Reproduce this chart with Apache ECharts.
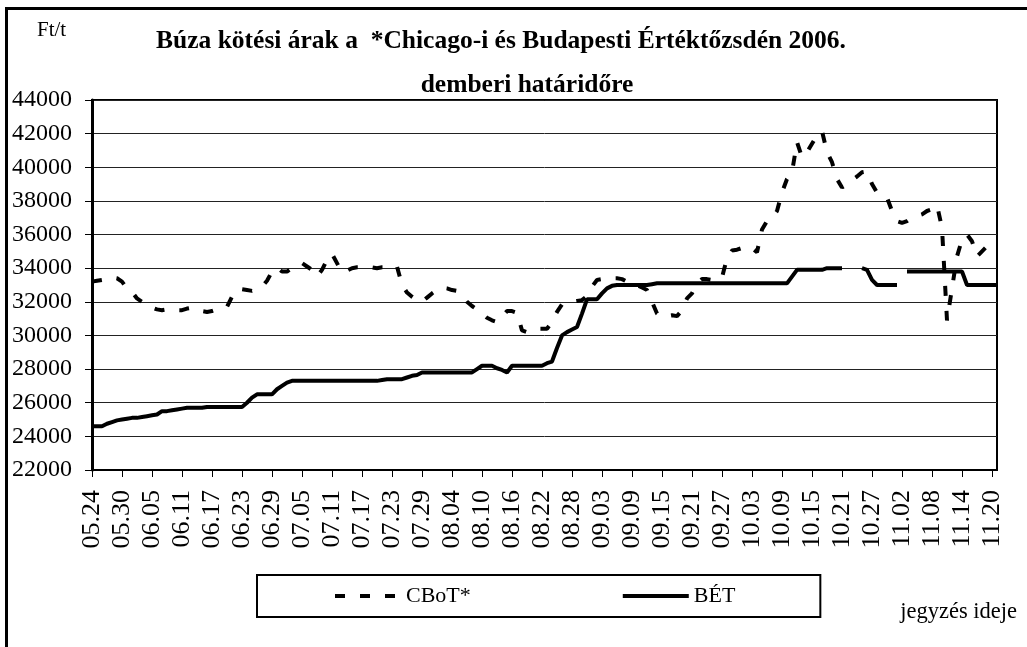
<!DOCTYPE html>
<html>
<head>
<meta charset="utf-8">
<script src="https://cdn.jsdelivr.net/npm/echarts@6/dist/echarts.min.js"></script>
<style>
    html, body { margin: 0; padding: 0; background: #fff; }
    #chart { width: 1027px; height: 647px; }
</style>
</head>
<body>
<div id="chart"></div>
<script>
// napi adatok 2006.05.24 - 2006.11.21
let startDay = [2006, 5, 24],
    dayCount = 182;

let seriesNames = ['CBoT*', 'BÉT'];

// Chicago (szaggatott)
let cbotValues = [
    33200, 33250, 33300, 33400, 33450, 33400, 33200, 32800, 32600, 32200,
    32000, 31900, 31650, 31550, 31500, 31550, 31550, 31500, 31500, 31600,
    31650, 31600, 31450, 31400, 31450, 31550, 31600, 31700, 32300, 32750,
    32750, 32700, 32650, 32750, 32900, 33250, 33800, 34050, 33800, 33800,
    34000, 34200, 34300, 34100, 33900, 33500, 33900, 34500, 34850, 34300,
    33750, 33850, 34000, 34050, 34050, 34000, 34050, 34000, 34050, 34050,
    34100, 34100, 33000, 32550, 32300, 32100, 32000, 32250, 32500, 32700,
    32850, 32800, 32700, 32650, 32400, 32000, 31750, 31550, 31300, 31050,
    30900, 30800, 31100, 31450, 31450, 31350, 30300, 30200, 30350, 30400,
    30400, 30400, 30800, 31400, 31850, 31950, 32000, 32050, 32100, 32350,
    32900, 33300, 33350, 33400, 33400, 33400, 33350, 33200, 33200, 33000,
    32850, 32700, 32000, 31300, 31100, 31150, 31200, 31150, 31500, 32200,
    32500, 33100, 33350, 33350, 33300, 33300, 33450, 34600, 35050, 35100,
    35200, 35300, 35200, 34950, 36300, 36800, 36950, 37400, 38500, 39300,
    39700, 41500, 40600, 40900, 41400, 41900, 42150, 40900, 40300, 39300,
    38800, 39000, 39250, 39450, 39700, 39750, 39000, 38500, 38350, 38200,
    37400, 36800, 36700, 36800, 37000, 37100, 37200, 37400, 37500, 37750,
    36400, 30900, 32800, 34700, 35700, 36000, 35600, 34700, 35000, 35300,
    35500, null
];

// Budapest (folytonos)
let betValues = [
    24600, 24600, 24600, 24750, 24850, 24950, 25000, 25050, 25100, 25100,
    25150, 25200, 25250, 25300, 25500, 25500, 25550, 25600, 25650, 25700,
    25700, 25700, 25700, 25750, 25750, 25750, 25750, 25750, 25750, 25750,
    25750, 26000, 26300, 26500, 26500, 26500, 26500, 26800, 27000, 27200,
    27300, 27300, 27300, 27300, 27300, 27300, 27300, 27300, 27300, 27300,
    27300, 27300, 27300, 27300, 27300, 27300, 27300, 27300, 27350, 27400,
    27400, 27400, 27400, 27500, 27600, 27650, 27800, 27800, 27800, 27800,
    27800, 27800, 27800, 27800, 27800, 27800, 27800, 28000, 28200, 28200,
    28200, 28050, 27950, 27800, 28200, 28200, 28200, 28200, 28200, 28200,
    28200, 28350, 28450, 29250, 30000, 30200, 30350, 30500, 31300, 32150,
    32150, 32150, 32500, 32800, 32950, 33000, 33000, 33000, 33000, 33000,
    33000, 33000, 33050, 33100, 33100, 33100, 33100, 33100, 33100, 33100,
    33100, 33100, 33100, 33100, 33100, 33100, 33100, 33100, 33100, 33100,
    33100, 33100, 33100, 33100, 33100, 33100, 33100, 33100, 33100, 33100,
    33500, 33900, 33900, 33900, 33900, 33900, 33900, 34000, 34000, 34000,
    34000, null, null, null, 34000, 33900, 33300, 33000, 33000, 33000,
    33000, 33000, null, 33800, 33800, 33800, 33800, 33800, 33800, 33800,
    33800, 33800, 33800, 33800, 33800, 33000, 33000, 33000, 33000, 33000,
    33000, 33000
];

let yMin = 22000,
    yMax = 44000,
    yStep = 2000;

let fontSerif = "'Liberation Serif', 'Times New Roman', serif";

// kategóriák: hónap.nap
let buildDays = function () {
    let days = [];
    let d = new Date(startDay[0], startDay[1] - 1, startDay[2]);
    for (let i = 0; i < dayCount; i++) {
        let mm = ('0' + (d.getMonth() + 1)).slice(-2);
        let dd = ('0' + d.getDate()).slice(-2);
        days.push(mm + '.' + dd);
        d.setDate(d.getDate() + 1);
    }
    return days;
};

let dayLabels = buildDays();

let chart = echarts.init(document.getElementById('chart'));

chart.setOption({
    animation: false,
    backgroundColor: '#fff',
    textStyle: { fontFamily: fontSerif, color: '#000' },
    grid: {
        left: 92, right: 30, top: 100, bottom: 177,
        show: true,
        borderColor: '#000',
        borderWidth: 2
    },
    legend: {
        left: 257,
        top: 575,
        padding: [10, 85, 10, 76],
        borderColor: '#000',
        borderWidth: 2,
        itemWidth: 66,
        itemHeight: 16,
        itemGap: 150,
        lineStyle: { width: 4 },
        itemStyle: { opacity: 0 },
        textStyle: { fontFamily: fontSerif, fontSize: 22, color: '#000' },
        data: seriesNames
    },
    xAxis: {
        type: 'category',
        data: dayLabels,
        boundaryGap: false,
        axisLine: { lineStyle: { color: '#000', width: 2 } },
        axisTick: { interval: 5, length: 7, lineStyle: { color: '#000', width: 1 } },
        axisLabel: {
            interval: 5,
            rotate: 90,
            margin: 20,
            fontSize: 26,
            fontFamily: fontSerif,
            color: '#000'
        },
        splitLine: { show: false }
    },
    yAxis: {
        type: 'value',
        min: yMin,
        max: yMax,
        interval: yStep,
        axisLine: { show: true, lineStyle: { color: '#000', width: 3 } },
        axisTick: { show: true, length: 7, lineStyle: { color: '#000', width: 1 } },
        axisLabel: {
            margin: 20,
            fontSize: 24,
            fontFamily: fontSerif,
            color: '#000',
            formatter: function (v) { return String(v); }
        },
        splitLine: { lineStyle: { color: '#222', width: 1 } }
    },
    series: [{
        name: seriesNames[0],
        type: 'line',
        data: cbotValues,
        symbol: 'none',
        connectNulls: false,
        lineStyle: { color: '#000', width: 4, type: [10, 15] },
        itemStyle: { color: '#000' }
    }, {
        name: seriesNames[1],
        type: 'line',
        data: betValues,
        symbol: 'none',
        connectNulls: false,
        lineStyle: { color: '#000', width: 4 },
        itemStyle: { color: '#000' }
    }],
    graphic: [{
        type: 'rect',
        silent: true,
        shape: { x: 6.5, y: 8.5, width: 1040, height: 660 },
        style: { fill: 'none', stroke: '#000', lineWidth: 3 }
    }, {
        type: 'text',
        left: 37, top: 20,
        style: { text: 'Ft/t', fontFamily: fontSerif, fontSize: 21, fill: '#000' }
    }, {
        type: 'text',
        x: 501, y: 41,
        style: {
            text: 'Búza kötési árak a  *Chicago-i és Budapesti Értéktőzsdén 2006.',
            fontFamily: fontSerif, fontSize: 25.5, fontWeight: 'bold', fill: '#000',
            align: 'center', verticalAlign: 'middle'
        }
    }, {
        type: 'text',
        x: 527, y: 85,
        style: {
            text: 'demberi határidőre',
            fontFamily: fontSerif, fontSize: 25.5, fontWeight: 'bold', fill: '#000',
            align: 'center', verticalAlign: 'middle'
        }
    }, {
        type: 'text',
        x: 1017, y: 612,
        style: {
            text: 'jegyzés ideje',
            fontFamily: fontSerif, fontSize: 22.5, fill: '#000',
            align: 'right', verticalAlign: 'middle'
        }
    }]
});
</script>
</body>
</html>
